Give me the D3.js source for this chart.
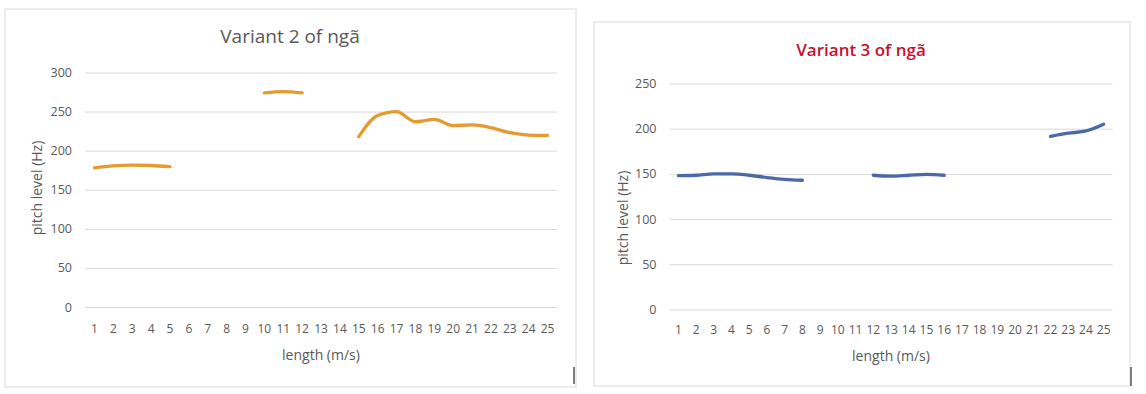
<!DOCTYPE html>
<html>
<head>
<meta charset="utf-8">
<script src="https://cdn.jsdelivr.net/npm/d3@7"></script>
<style>
    body { margin: 0; background: #fff; }
    text { font-family: "Open Sans", sans-serif; fill: #595959; }
</style>
</head>
<body>
<svg id="mainsvg" width="1146" height="394"></svg>
<script>
// data
let lengthCats = [1, 2, 3, 4, 5, 6, 7, 8, 9, 10, 11, 12, 13, 14, 15, 16, 17, 18, 19, 20, 21, 22, 23, 24, 25];
let variant2Pitch = [178, 180.5, 181.5, 181, 179.5, null, null, null, null, 274, 275.5, 274, null, null,
    218, 245, 250, 237, 240, 232, 233, 229.5, 223, 220, 219.5];
let variant3Pitch = [148, 148.5, 150, 150, 148.5, 146, 144, 143, null, null, null, 148.5, 147.5, 148.5, 149.5, 148.5,
    null, null, null, null, null, 191.5, 195, 197.5, 205];
let variant2Ticks = [0, 50, 100, 150, 200, 250, 300];
let variant3Ticks = [0, 50, 100, 150, 200, 250];

let svg = d3.select("#mainsvg");

let drawChart = function(opt) {
    let g = svg.append("g");

    // chart area border
    g.append("rect")
        .attr("x", opt.frame[0]).attr("y", opt.frame[1])
        .attr("width", opt.frame[2]).attr("height", opt.frame[3])
        .attr("fill", "#fff").attr("stroke", "#d9d9d9").attr("stroke-width", 1);

    let x = d3.scaleBand().domain(opt.cats).range([opt.left, opt.right]).padding(0);
    let y = d3.scaleLinear().domain([0, d3.max(opt.ticks)]).range([opt.bottom, opt.top]);

    // gridlines
    let grid = g.append("g")
        .attr("transform", "translate(" + opt.left + ",0)")
        .call(d3.axisLeft(y).tickValues(opt.ticks).tickSize(-(opt.right - opt.left)).tickFormat(""));
    grid.select(".domain").remove();
    grid.selectAll("line").attr("stroke", "#d9d9d9");

    // y labels
    let yax = g.append("g")
        .attr("transform", "translate(" + (opt.left - 13) + ",0)")
        .call(d3.axisLeft(y).tickValues(opt.ticks).tickSize(0).tickPadding(0));
    yax.select(".domain").remove();
    yax.selectAll("text").attr("font-size", 12.5).attr("font-family", "Open Sans").attr("fill", "#595959");

    // x labels
    let xax = g.append("g")
        .attr("transform", "translate(0," + opt.xTickY + ")")
        .call(d3.axisBottom(x).tickSize(0).tickPadding(0));
    xax.select(".domain").remove();
    xax.selectAll("text").attr("font-size", 12).attr("font-family", "Open Sans")
        .attr("fill", "#595959").attr("dy", "0.35em");

    // the line, broken where values are missing
    let line = d3.line()
        .defined(d => d.v !== null)
        .x(d => x(d.c) + x.bandwidth() / 2)
        .y(d => y(d.v))
        .curve(d3.curveMonotoneX);
    let pts = opt.cats.map((c, i) => ({c: c, v: opt.values[i]}));
    g.append("path")
        .datum(pts)
        .attr("d", line)
        .attr("fill", "none")
        .attr("stroke", opt.color)
        .attr("stroke-width", 3.3)
        .attr("stroke-linecap", "round")
        .attr("stroke-linejoin", "round");

    // titles
    g.append("text")
        .attr("x", opt.titleX).attr("y", opt.titleY)
        .attr("text-anchor", "middle").attr("dy", "0.35em")
        .attr("font-size", opt.titleSize).attr("font-weight", opt.titleWeight)
        .style("fill", opt.titleColor)
        .text(opt.title);
    g.append("text")
        .attr("x", (opt.left + opt.right) / 2).attr("y", opt.xTitleY)
        .attr("text-anchor", "middle").attr("dy", "0.35em")
        .attr("font-size", 14)
        .text("length (m/s)");
    g.append("text")
        .attr("transform", "translate(" + opt.yTitleX + "," + opt.yTitleY + ") rotate(-90)")
        .attr("text-anchor", "middle").attr("dy", "0.35em")
        .attr("font-size", 14)
        .text("pitch level (Hz)");

    // stray cursor mark at the bottom right
    g.append("line")
        .attr("x1", opt.mark[0]).attr("x2", opt.mark[0])
        .attr("y1", opt.mark[1]).attr("y2", opt.mark[2])
        .attr("stroke", "#555").attr("stroke-width", 1.5);
};

drawChart({
    frame: [5, 9, 571, 378],
    left: 85, right: 557, top: 72.5, bottom: 307,
    cats: lengthCats, values: variant2Pitch, ticks: variant2Ticks,
    color: "#E69B30",
    title: "Variant 2 of ngã", titleX: 290, titleY: 36, titleSize: 19, titleWeight: 400, titleColor: "#595959",
    xTickY: 329, xTitleY: 355, yTitleX: 37, yTitleY: 188,
    mark: [574, 367, 384]
});

drawChart({
    frame: [594, 22, 536, 364],
    left: 669.5, right: 1112.5, top: 83.5, bottom: 309.5,
    cats: lengthCats, values: variant3Pitch, ticks: variant3Ticks,
    color: "#4A69A6",
    title: "Variant 3 of ngã", titleX: 861, titleY: 50, titleSize: 17, titleWeight: 600, titleColor: "#C8102E",
    xTickY: 330, xTitleY: 356, yTitleX: 623, yTitleY: 218,
    mark: [1131, 367, 386]
});
</script>
</body>
</html>
